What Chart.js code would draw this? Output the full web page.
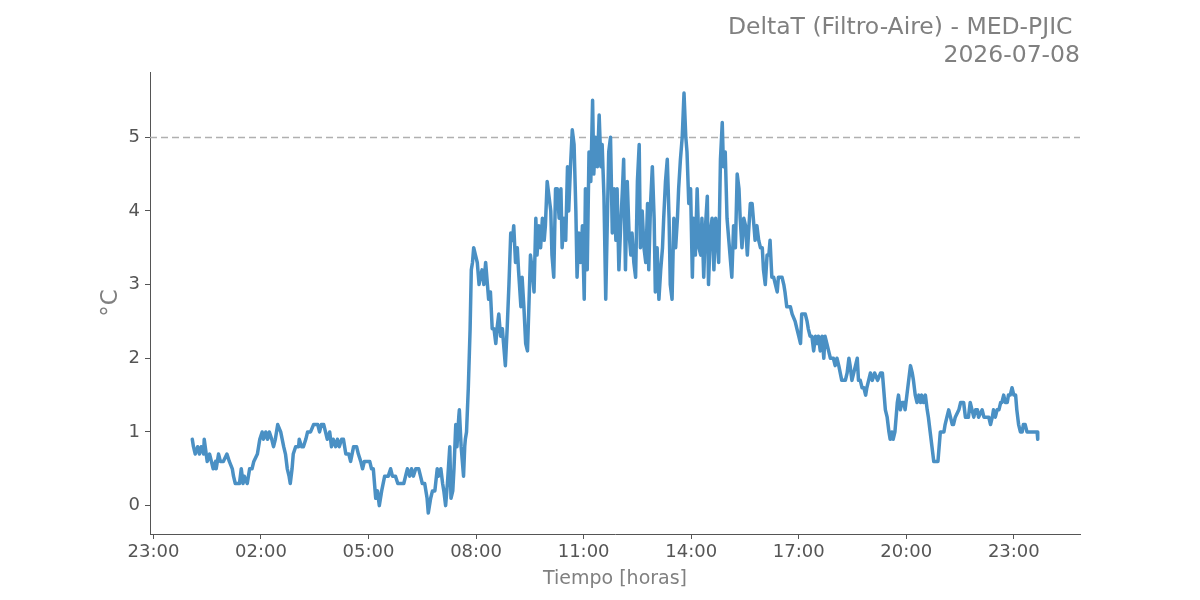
<!DOCTYPE html>
<html><head><meta charset="utf-8">
<script src="https://cdn.jsdelivr.net/npm/chart.js@4.4.1/dist/chart.umd.min.js"></script>
<style>html,body{margin:0;padding:0;background:#fff}canvas{display:block}</style>
</head><body>
<canvas id="c" width="1200" height="600"></canvas>
<script>
const chartTitle = ["DeltaT (Filtro-Aire) - MED-PJIC ", "2026-07-08"];
const xAxisTitle = "Tiempo [horas]";
const yAxisTitle = "°C";
const threshold = 5;
const xTickHours = [-1, 2, 5, 8, 11, 14, 17, 20, 23];
const yTicks = [0, 1, 2, 3, 4, 5];

const times = [
"00:05","00:07","00:10","00:14","00:17","00:20","00:24","00:25","00:30","00:34","00:37","00:40","00:44","00:45","00:49","00:52","00:57",
"01:03","01:07","01:12","01:14","01:17","01:24","01:27","01:30","01:32","01:37","01:41","01:45","01:48","01:54","01:58",
"02:02","02:04","02:08","02:11","02:14","02:18","02:21","02:24","02:28","02:33","02:38","02:41","02:44","02:47","02:49","02:52","02:54","02:58",
"03:03","03:04","03:08","03:11","03:15","03:18","03:23","03:28","03:35","03:38","03:41","03:45","03:48","03:51","03:55","03:58",
"04:01","04:05","04:08","04:11","04:15","04:18","04:22","04:27","04:30","04:35","04:40","04:43","04:47","04:50","04:53",
"05:02","05:05","05:08","05:12","05:15","05:18","05:22","05:27","05:33","05:37","05:40","05:45","05:49","05:54","05:59",
"06:02","06:05","06:09","06:12","06:15","06:19","06:24","06:27","06:30","06:34","06:38","06:40","06:44","06:47","06:51","06:55","06:57",
"07:01","07:04","07:06","07:09","07:12","07:16","07:18","07:21","07:23","07:26","07:28","07:31","07:32","07:35","07:39","07:41","07:42","07:44","07:47","07:50","07:52","07:54","07:56","07:59",
"08:02","08:05","08:07","08:10","08:13","08:16","08:19","08:21","08:24","08:27","08:30","08:33","08:35","08:38","08:41","08:44","08:46","08:49","08:52","08:55","08:58",
"09:01","09:03","09:06","09:09","09:11","09:15","09:17","09:20","09:23","09:26","09:28","09:31","09:34","09:37","09:40","09:42","09:45","09:48","09:51","09:54","09:56","09:59",
"10:02","10:05","10:07","10:10","10:13","10:16","10:19","10:22","10:24","10:27","10:30","10:33","10:35","10:38","10:41","10:44","10:47","10:49","10:52","10:55","10:58",
"11:01","11:03","11:06","11:09","11:12","11:15","11:17","11:20","11:23","11:26","11:29","11:31","11:34","11:37","11:40","11:42","11:45","11:48","11:51","11:54","11:56","11:59",
"12:02","12:05","12:07","12:10","12:13","12:16","12:19","12:21","12:24","12:27","12:30","12:33","12:35","12:38","12:41","12:44","12:47","12:49","12:52","12:55","12:58",
"13:00","13:03","13:06","13:09","13:12","13:14","13:17","13:20","13:23","13:25","13:28","13:31","13:34","13:37","13:39","13:42","13:45","13:48","13:51","13:53","13:56","13:59",
"14:02","14:04","14:07","14:10","14:13","14:16","14:18","14:21","14:24","14:27","14:29","14:32","14:35","14:38","14:41","14:43","14:46","14:49","14:52","14:54","14:57",
"15:00","15:03","15:06","15:08","15:11","15:14","15:17","15:20","15:22","15:25","15:28","15:31","15:34","15:36","15:39","15:42","15:45","15:47","15:50","15:53","15:56","15:59",
"16:01","16:04","16:07","16:10","16:12","16:15","16:18","16:21","16:24","16:26","16:32","16:35","16:37","16:40","16:46","16:49","16:54","16:57",
"17:00","17:03","17:05","17:11","17:14","17:16","17:19","17:22","17:25","17:28","17:31","17:33","17:36","17:39","17:42","17:44","17:47","17:50","17:53","17:58",
"18:01","18:04","18:07","18:12","18:18","18:21","18:24","18:26","18:29","18:32","18:35","18:38","18:40","18:43","18:46","18:49","18:52","18:54","18:57",
"19:00","19:03","19:07","19:12","19:17","19:20","19:22","19:25","19:28","19:31","19:33","19:36","19:38","19:41","19:45","19:47","19:50","19:53","19:56","19:58",
"20:01","20:04","20:07","20:10","20:12","20:15","20:18","20:21","20:24","20:26","20:29","20:32","20:35","20:37","20:40","20:43","20:46","20:53","20:57",
"21:03","21:05","21:08","21:11","21:14","21:17","21:19","21:22","21:28","21:31","21:36","21:39","21:44","21:47","21:50","21:53","21:56","21:59",
"22:01","22:07","22:10","22:12","22:18","22:21","22:24","22:26","22:29","22:32","22:35","22:38","22:40","22:43","22:46","22:49","22:51","22:54","22:57",
"23:00","23:03","23:05","23:08","23:11","23:14","23:16","23:19","23:22","23:30","23:39","23:40"
];

const deltaT = [
0.9,0.8,0.7,0.8,0.7,0.8,0.7,0.9,0.6,0.7,0.6,0.5,0.6,0.5,0.7,0.6,0.6,
0.7,0.6,0.5,0.4,0.3,0.3,0.5,0.3,0.4,0.3,0.5,0.5,0.6,0.7,0.9,
1.0,0.9,1.0,0.9,1.0,0.9,0.8,0.9,1.1,1.0,0.8,0.7,0.5,0.4,0.3,0.5,0.7,0.8,
0.8,0.9,0.8,0.8,0.9,1.0,1.0,1.1,1.1,1.0,1.1,1.1,1.0,0.9,1.0,0.8,
0.9,0.8,0.9,0.8,0.9,0.9,0.7,0.7,0.6,0.8,0.8,0.7,0.6,0.5,0.6,
0.6,0.5,0.5,0.1,0.2,0.0,0.2,0.4,0.4,0.5,0.4,0.4,0.3,0.3,0.3,
0.4,0.5,0.4,0.5,0.4,0.5,0.5,0.4,0.3,0.3,0.1,-0.1,0.1,0.2,0.2,0.5,0.4,
0.5,0.3,0.2,0.0,0.3,0.8,0.1,0.2,0.5,1.1,0.8,1.2,1.3,0.8,0.4,0.8,0.9,1.0,1.6,2.4,3.2,3.3,3.5,3.4,
3.3,3.0,3.1,3.2,3.0,3.3,3.0,2.8,2.9,2.4,2.4,2.2,2.4,2.6,2.3,2.4,2.2,1.9,2.4,3.0,3.7,
3.6,3.8,3.3,3.5,3.2,2.7,3.1,2.7,2.2,2.1,2.6,3.4,3.2,2.9,3.9,3.4,3.8,3.5,3.9,3.6,3.8,4.4,
4.2,4.0,3.4,3.1,4.3,4.3,3.9,4.3,3.5,3.9,3.6,4.6,4.0,4.6,5.1,4.9,4.0,3.1,3.7,3.3,3.8,
2.8,4.3,3.2,4.8,4.4,5.5,4.5,5.0,4.6,5.3,4.6,4.9,4.2,2.8,4.0,4.8,5.0,3.7,4.3,3.6,4.3,3.2,
3.8,4.3,4.7,3.2,4.4,3.7,3.4,3.7,3.3,3.1,4.4,4.9,3.5,4.0,3.5,3.3,4.1,3.2,4.1,4.6,3.9,
2.9,3.5,2.8,3.2,3.5,3.9,4.4,4.7,3.9,3.0,2.8,3.9,3.5,3.9,4.3,4.7,5.0,5.6,5.0,4.8,4.1,4.3,
3.1,3.9,3.4,4.3,3.5,3.4,3.9,3.1,3.8,4.2,3.0,3.7,3.9,3.2,3.9,3.7,3.3,4.7,5.2,4.6,4.8,
3.9,3.6,3.3,3.1,3.8,3.5,4.5,4.3,3.9,3.5,3.9,3.8,3.4,3.7,4.1,4.1,3.8,3.6,3.8,3.6,3.5,3.5,
3.2,3.0,3.4,3.4,3.6,3.1,3.1,3.0,2.9,3.1,3.1,3.0,2.9,2.7,2.7,2.6,2.5,2.4,
2.3,2.2,2.6,2.6,2.5,2.4,2.3,2.3,2.1,2.3,2.2,2.3,2.1,2.3,2.0,2.3,2.2,2.1,2.0,2.0,
1.9,2.0,1.9,1.7,1.7,1.8,2.0,1.9,1.7,1.8,1.9,2.0,1.7,1.7,1.6,1.6,1.5,1.6,1.7,
1.8,1.7,1.8,1.7,1.8,1.8,1.6,1.3,1.2,1.0,0.9,1.0,0.9,1.0,1.4,1.5,1.3,1.4,1.4,1.3,
1.5,1.7,1.9,1.8,1.7,1.5,1.4,1.5,1.4,1.5,1.4,1.5,1.3,1.2,1.0,0.8,0.6,0.6,1.0,
1.0,1.1,1.2,1.3,1.2,1.1,1.1,1.2,1.3,1.4,1.4,1.2,1.2,1.4,1.3,1.2,1.3,1.3,
1.2,1.3,1.2,1.2,1.2,1.1,1.2,1.3,1.2,1.3,1.3,1.4,1.4,1.5,1.4,1.4,1.5,1.5,1.6,
1.5,1.5,1.3,1.1,1.0,1.0,1.1,1.1,1.0,1.0,1.0,0.9
];

const toHours = t => { const [h, m] = t.split(':').map(Number); return h + m / 60; };
const points = times.map((t, i) => ({ x: toHours(t), y: deltaT[i] }));

// matplotlib-like 5% margins around data range
const xs = points.map(p => p.x), ys = points.map(p => p.y);
const xLo = Math.min(...xs), xHi = Math.max(...xs);
const yLo = Math.min(...ys), yHi = Math.max(...ys);
const xPad = (xHi - xLo) * 0.05, yPad = (yHi - yLo) * 0.05;

const fmtHour = v => {
  const h = ((Math.round(v) % 24) + 24) % 24;
  return String(h).padStart(2, '0') + ':00';
};

const thresholdPlugin = {
  id: 'threshold',
  beforeDatasetsDraw(chart) {
    const { ctx, chartArea: a, scales: { y } } = chart;
    const py = Math.round(y.getPixelForValue(threshold)) + 0.5;
    ctx.save();
    ctx.strokeStyle = '#b0b0b0';
    ctx.lineWidth = 1.5;
    ctx.setLineDash([7, 4]);
    ctx.beginPath();
    ctx.moveTo(a.left, py);
    ctx.lineTo(a.right, py);
    ctx.stroke();
    ctx.restore();
  }
};

const titlePlugin = {
  id: 'rightTitle',
  afterDraw(chart) {
    const { ctx, chartArea: a } = chart;
    ctx.save();
    ctx.fillStyle = '#808080';
    ctx.font = '23.5px "DejaVu Sans"';
    ctx.textAlign = 'right';
    ctx.textBaseline = 'middle';
    ctx.fillText(chartTitle[0], a.right, 28);
    ctx.fillText(chartTitle[1], a.right, 56);
    ctx.restore();
  }
};

const tickFont = { family: 'DejaVu Sans', size: 18 };

new Chart(document.getElementById('c'), {
  type: 'line',
  data: {
    datasets: [{
      data: points,
      borderColor: '#4a90c4',
      borderWidth: 3.5,
      pointRadius: 0,
      tension: 0,
      fill: false,
      borderJoinStyle: 'round',
      borderCapStyle: 'round'
    }]
  },
  options: {
    responsive: false,
    animation: false,
    devicePixelRatio: 1,
    layout: { padding: { left: 95, right: 120, top: 72, bottom: 10 } },
    plugins: { legend: { display: false }, tooltip: { enabled: false }, title: { display: false } },
    scales: {
      x: {
        type: 'linear',
        min: xLo - xPad,
        max: xHi + xPad,
        afterBuildTicks: s => { s.ticks = xTickHours.map(v => ({ value: v })); },
        afterFit: s => { s.height = 56; },
        ticks: { callback: v => fmtHour(v), color: '#555555', font: tickFont, padding: 3, maxRotation: 0, autoSkip: false },
        grid: { display: true, drawOnChartArea: false, drawTicks: true, tickLength: 5, color: '#555555' },
        border: { display: true, color: '#555555', width: 1 },
        title: { display: true, text: xAxisTitle, color: '#808080', font: { family: 'DejaVu Sans', size: 19 }, padding: 0 }
      },
      y: {
        type: 'linear',
        min: yLo - yPad,
        max: yHi + yPad,
        afterBuildTicks: s => { s.ticks = yTicks.map(v => ({ value: v })); },
        afterFit: s => { s.width = 55; },
        ticks: { callback: v => String(v), color: '#555555', font: tickFont, padding: 5 },
        grid: { display: true, drawOnChartArea: false, drawTicks: true, tickLength: 5, color: '#555555' },
        border: { display: true, color: '#555555', width: 1 },
        title: { display: true, text: yAxisTitle, color: '#808080', font: { family: 'DejaVu Sans', size: 23 }, padding: { top: 2, bottom: 0 } }
      }
    }
  },
  plugins: [thresholdPlugin, titlePlugin]
});
</script>
</body></html>
